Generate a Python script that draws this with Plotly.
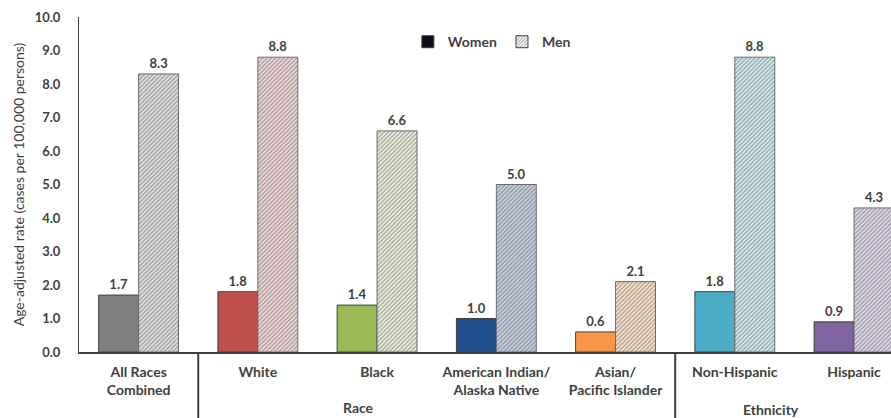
import plotly.graph_objects as go

# Age-adjusted incidence, cases per 100,000 persons
categories = ["All Races<br>Combined", "White", "Black", "American Indian/<br>Alaska Native",
              "Asian/<br>Pacific Islander", "Non-Hispanic", "Hispanic"]
women = [1.7, 1.8, 1.4, 1.0, 0.6, 1.8, 0.9]
men = [8.3, 8.8, 6.6, 5.0, 2.1, 8.8, 4.3]

women_colors = ["#7f7f7f", "#c0504d", "#9bbb59", "#1f4e8c", "#f79646", "#4bacc6", "#8064a2"]
men_fg = ["#9a9a9a", "#c86a68", "#a9c46c", "#4a6f98", "#f0a868", "#5ab3cb", "#9a82b8"]
men_bg = ["#e4e4e4", "#f4dcdc", "#eef4e0", "#c9d6e6", "#fde6cf", "#d6eff6", "#e2dbee"]

ink = "#404040"
font_family = "Lato, 'Open Sans', Arial, sans-serif"
bar_w = 0.335

fig = go.Figure()

fig.add_bar(
    x=categories, y=women, name="Women", showlegend=False,
    width=bar_w, offset=-bar_w,
    marker=dict(color=women_colors, line=dict(color=ink, width=1)),
    text=[f"{v:.1f}" for v in women], textposition="outside",
    textfont=dict(size=13, color=ink, family=font_family, weight="bold"),
    cliponaxis=False,
)
fig.add_bar(
    x=categories, y=men, name="Men", showlegend=False,
    width=bar_w, offset=0,
    marker=dict(
        color=men_bg,
        line=dict(color="#6a6a6a", width=1),
        pattern=dict(shape="/", fgcolor=men_fg, bgcolor=men_bg, size=3, solidity=0.4),
    ),
    text=[f"{v:.1f}" for v in men], textposition="outside",
    textfont=dict(size=13, color=ink, family=font_family, weight="bold"),
    cliponaxis=False,
)

# Legend entries
fig.add_bar(x=[None], y=[None], name="Women", width=bar_w,
            marker=dict(color="#0d0d1a", line=dict(color=ink, width=1)))
fig.add_bar(x=[None], y=[None], name="Men", width=bar_w,
            marker=dict(color="white", line=dict(color=ink, width=1),
                        pattern=dict(shape="/", fgcolor="#333333", bgcolor="white", size=3, solidity=0.4)))

# Group separators below the axis
for xpos in [0.5, 4.5]:
    fig.add_shape(type="line", xref="x", yref="paper", x0=xpos, x1=xpos, y0=0, y1=-0.2,
                  line=dict(color=ink, width=2))

fig.add_annotation(text="Race", xref="paper", yref="paper", x=(358 - 79) / 812, y=-0.196,
                   showarrow=False, font=dict(size=14, color=ink, family=font_family, weight="bold"))
fig.add_annotation(text="Ethnicity", xref="paper", yref="paper", x=(801 - 79) / 812, y=-0.203,
                   showarrow=False, font=dict(size=14, color=ink, family=font_family, weight="bold"))

fig.update_layout(
    width=891, height=418,
    margin=dict(l=79, r=0, t=17, b=66),
    plot_bgcolor="white", paper_bgcolor="white",
    barmode="overlay",
    font=dict(family=font_family, color=ink),
    legend=dict(orientation="h", x=0.405, y=0.925, xanchor="left", yanchor="middle",
                font=dict(size=14, color=ink, weight="bold"), traceorder="normal",
                bgcolor="rgba(0,0,0,0)"),
    xaxis=dict(range=[-0.5, 6.31], showline=True, linecolor=ink, linewidth=1.5,
               tickfont=dict(size=14, color=ink, weight="bold"), ticks="", showgrid=False,
               ticklabelstandoff=6, fixedrange=True),
    yaxis=dict(range=[0, 10], dtick=1, tickformat=".1f", showline=True, linecolor=ink, linewidth=1,
               showgrid=False, zeroline=False, ticks="", ticklabelstandoff=15,
               tickfont=dict(size=13, color=ink, weight="bold"),
               title=dict(text="Age-adjusted rate (cases per 100,000 persons)",
                          font=dict(size=14, color=ink), standoff=6)),
)

fig.write_html("out.html")
